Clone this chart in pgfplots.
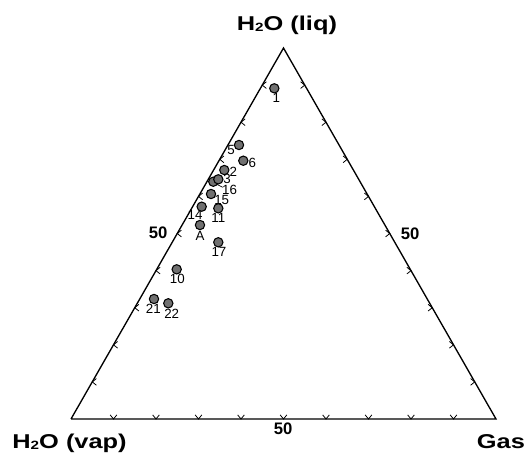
\documentclass[border=0pt]{standalone}
\usepackage{pgfplots}
\pgfplotsset{compat=1.18}
\usepackage{fontspec}
\setmainfont{Liberation Sans}
\newfontfamily\bigfont[FakeStretch=1.27]{Liberation Sans}
\pgfdeclareplotmark{chevL}{\pgfpathmoveto{\pgfpoint{3.1pt}{2.5pt}}\pgfpathlineto{\pgfpoint{0pt}{0pt}}\pgfpathlineto{\pgfpoint{3.1pt}{-2.5pt}}\pgfusepathqstroke}
\pgfdeclareplotmark{chevR}{\pgfpathmoveto{\pgfpoint{-3.1pt}{2.5pt}}\pgfpathlineto{\pgfpoint{0pt}{0pt}}\pgfpathlineto{\pgfpoint{-3.1pt}{-2.5pt}}\pgfusepathqstroke}
\pgfdeclareplotmark{chevD}{\pgfpathmoveto{\pgfpoint{-2.5pt}{3.1pt}}\pgfpathlineto{\pgfpoint{0pt}{0pt}}\pgfpathlineto{\pgfpoint{2.5pt}{3.1pt}}\pgfusepathqstroke}
\newcommand{\bigtxt}[1]{{\bigfont\bfseries\fontsize{15}{18}\selectfont #1}}
\newcommand{\Htwo}{H\raisebox{-0.05em}{\fontsize{9}{9}\selectfont 2}O}
\definecolor{ptfill}{RGB}{112,112,112}
\begin{document}
\begin{tikzpicture}
\begin{axis}[
  scale only axis, width=393.75pt, height=341.25pt,
  xmin=-16.706, xmax=106.824, ymin=-8.403, ymax=97.806,
  hide axis, clip=false,
  every node/.style={font=\bfseries\fontsize{7}{7.5}\selectfont, inner sep=0pt},
]
\coordinate (bl) at (rel axis cs:0,0);
\coordinate (tr) at (rel axis cs:1,1);
% triangle frame
\addplot[black, line width=1pt, no marks] coordinates {(0,0) (100,0) (50,86.6) (0,0)};
% ticks
\addplot[only marks, mark=chevL, black, line width=0.6pt] coordinates {
(5,8.66) (10,17.32) (15,25.98) (20,34.64) (25,43.30) (30,51.96) (35,60.62) (40,69.28) (45,77.94)};
\addplot[only marks, mark=chevR, black, line width=0.6pt] coordinates {
(95,8.66) (90,17.32) (85,25.98) (80,34.64) (75,43.30) (70,51.96) (65,60.62) (60,69.28) (55,77.94)};
\addplot[only marks, mark=chevD, black, line width=0.6pt] coordinates {
(10,0) (20,0) (30,0) (40,0) (50,0) (60,0) (70,0) (80,0) (90,0)};
% data points
\addplot[only marks, mark=*, mark size=3.5pt, mark options={fill=ptfill, draw=black, line width=0.8pt}] coordinates {
(47.84,77.19) (39.53,63.96) (40.54,60.29) (36.07,58.12) (33.48,55.39) (34.66,55.95)
(32.94,52.52) (30.75,49.56) (34.66,49.18) (30.35,45.28) (34.66,41.25)
(24.87,34.94) (19.53,28.01) (22.89,27.01)};
\draw[black, line width=0.5pt] (axis cs:34.28,54.78) -- (axis cs:35.69,54.08);
% point labels
\node at (axis cs:48.31,75.00) {1};
\node at (axis cs:37.65,62.79) {5};
\node at (axis cs:42.66,59.69) {6};
\node at (axis cs:38.20,57.73) {2};
\node at (axis cs:36.70,56.00) {3};
\node at (axis cs:37.30,53.55) {16};
\node at (axis cs:35.46,51.15) {15};
\node at (axis cs:29.18,47.60) {14};
\node at (axis cs:34.66,46.88) {11};
\node at (axis cs:30.35,42.79) {A};
\node at (axis cs:34.82,38.90) {17};
\node at (axis cs:25.02,32.60) {10};
\node at (axis cs:19.37,25.60) {21};
\node at (axis cs:23.69,24.51) {22};
% axis labels
\node[anchor=base] at (axis cs:50.8,90.8) {\bigtxt{\Htwo\ (liq)}};
\node[anchor=base west] at (axis cs:-14.9,-6.77) {\bigtxt{\Htwo\ (vap)}};
\node[anchor=base west] at (axis cs:94.4,-6.77) {\bigtxt{Gas}};
\node[anchor=base] at (axis cs:49.9,-3.73) {{\bfseries\fontsize{12.5}{14}\selectfont 50}};
\node[anchor=center] at (axis cs:20.5,43.4) {{\bfseries\fontsize{12.5}{14}\selectfont 50}};
\node[anchor=center] at (axis cs:79.8,43.2) {{\bfseries\fontsize{12.5}{14}\selectfont 50}};
\end{axis}
\pgfresetboundingbox
\path (bl) rectangle (tr);
\end{tikzpicture}
\end{document}
